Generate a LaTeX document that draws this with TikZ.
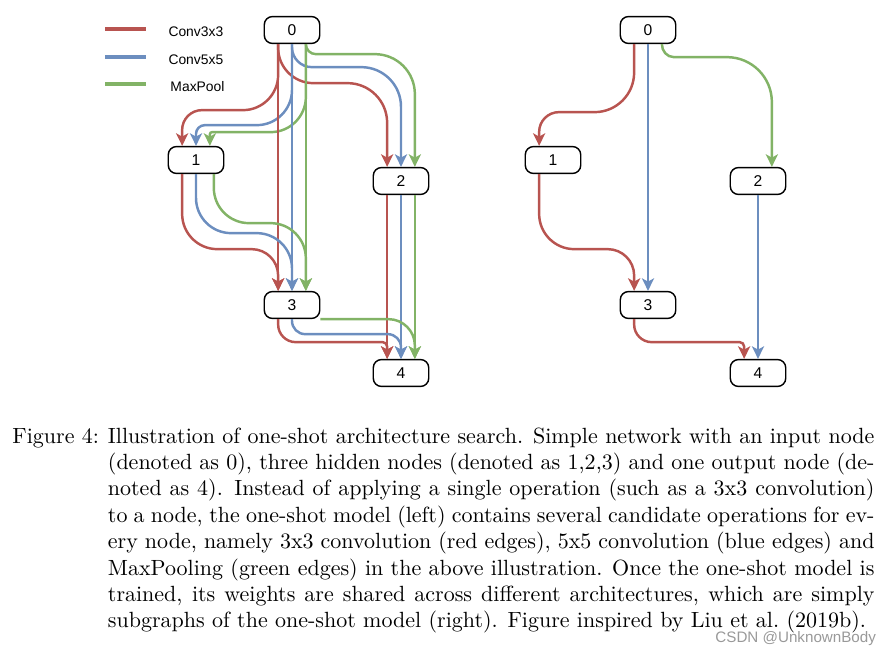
\documentclass[tikz,border=0pt]{standalone}
\usepackage{fontspec}
\usepackage{tikz}
\usetikzlibrary{arrows.meta, positioning}
\newfontfamily\drawiofont{Liberation Sans}
\definecolor{convred}{HTML}{B85450}
\definecolor{convblue}{HTML}{6C8EBF}
\definecolor{poolgreen}{HTML}{82B366}

\begin{document}
\begin{tikzpicture}[x=0.4545pt, y=-0.4545pt,
        cell/.style={rectangle, draw, rounded corners=3.7pt, minimum width=25.2pt, minimum height=12.2pt, inner sep=0pt, line width=0.65pt, font=\drawiofont\fontsize{7.1}{8}\selectfont},
        link/.style={line width=1.12pt, rounded corners=10pt, -{Stealth[length=5.7pt, width=5.5pt, inset=1.5pt]}},
        conv3/.style={link, draw=convred},
        conv5/.style={link, draw=convblue},
        pool/.style={link, draw=poolgreen},
        swatch/.style={rectangle, inner sep=0pt, minimum width=18.5pt, minimum height=2.25pt},
        keytext/.style={inner sep=0pt, font=\drawiofont\fontsize{6.3}{7}\selectfont}]
        \useasboundingbox (0,0) rectangle (896,657);

        \node[swatch, fill=convred] (KeyRed) at (125.5,29) {};
        \node[swatch, fill=convblue] (KeyBlue) at (125.5,57) {};
        \node[swatch, fill=poolgreen] (KeyGreen) at (125.5,84) {};
        \node[keytext, right=9.9pt of KeyRed, yshift=-1.3pt] (KeyRedText) {Conv3x3};
        \node[keytext, right=9.9pt of KeyBlue, yshift=-1.3pt] (KeyBlueText) {Conv5x5};
        \node[keytext, right=10.8pt of KeyGreen, yshift=-1.3pt] (KeyGreenText) {MaxPool};

        \node[cell] (Left0) at (292,30) {0};
        \node[cell] (Left1) at (196,160) {1};
        \node[cell] (Left2) at (401,181) {2};
        \node[cell] (Left3) at (292,305) {3};
        \node[cell] (Left4) at (401,373) {4};

        \draw[conv3] ([xshift=-6.3pt] Left0.south) [rounded corners=16pt] -- ++(0,66) [rounded corners=9pt] -- ++(-96,0) -- ([xshift=-6.3pt] Left1.north);
        \draw[conv5] (Left0.south) [rounded corners=16pt] -- ++(0,81) [rounded corners=4pt] -- ++(-96,0) -- (Left1.north);
        \draw[pool] ([xshift=6.3pt] Left0.south) [rounded corners=16pt] -- ++(0,88) [rounded corners=1pt] -- ++(-96,0) -- ([xshift=6.3pt] Left1.north);
        \draw[conv3] ([xshift=-6.3pt] Left0.south) [rounded corners=16pt] -- ++(0,39) [rounded corners=18pt] -- ++(109,0) -- ([xshift=-6.3pt] Left2.north);
        \draw[conv5] (Left0.south) [rounded corners=9pt] -- ++(0,23) [rounded corners=18pt] -- ++(109,0) -- (Left2.north);
        \draw[pool, sharp corners] ([xshift=6.3pt] Left0.south) to[out=-90, in=180] ++(10,10) -- ++(59,0) to[out=0, in=90] ++(40,40) -- ([xshift=6.3pt] Left2.north);
        \draw[conv3] ([xshift=-6.3pt] Left0.south) -- ([xshift=-6.3pt] Left3.north);
        \draw[conv5] (Left0.south) -- (Left3.north);
        \draw[pool] ([xshift=6.3pt] Left0.south) -- ([xshift=6.3pt] Left3.north);
        \draw[conv3] ([xshift=-6.3pt] Left1.south) [rounded corners=16pt] -- ++(0,75) [rounded corners=12pt] -- ++(96,0) -- ([xshift=-6.3pt] Left3.north);
        \draw[conv5, rounded corners=16pt] (Left1.south) -- ++(0,59) -- ++(96,0) -- (Left3.north);
        \draw[pool, rounded corners=16pt] ([xshift=8.1pt] Left1.south) -- ++(0,49) -- ++(92,0) -- ([xshift=6.3pt] Left3.north);
        \draw[conv3] ([xshift=-6.3pt] Left2.south) -- ([xshift=-6.3pt] Left4.north);
        \draw[conv5] (Left2.south) -- (Left4.north);
        \draw[pool] ([xshift=6.3pt] Left2.south) -- ([xshift=6.3pt] Left4.north);
        \draw[conv3] ([xshift=-6.3pt] Left3.south) [rounded corners=8pt] -- ++(0,23) [rounded corners=2pt] -- ++(109,0) -- ([xshift=-6.3pt] Left4.north);
        \draw[conv5, rounded corners=6pt] (Left3.south) -- ++(0,15) -| (Left4.north);
        \draw[pool, rounded corners=12pt] (Left3.south east) -| ([xshift=6.3pt] Left4.north);

        \node[cell] (Right0) at (648,30) {0};
        \node[cell] (Right1) at (553,160) {1};
        \node[cell] (Right2) at (758,181) {2};
        \node[cell] (Right3) at (648,305) {3};
        \node[cell] (Right4) at (758,373) {4};

        \draw[conv3] ([xshift=-6.3pt] Right0.south) [rounded corners=18pt] -- ++(0,68) [rounded corners=9pt] -- ++(-95,0) -- ([xshift=-6.3pt] Right1.north);
        \draw[conv5] (Right0.south) -- (Right3.north);
        \draw[pool, sharp corners] ([xshift=6.3pt] Right0.south) to[out=-90, in=180] ++(12,13) -- ++(53,0) to[out=0, in=90] ++(45,45) -- ([xshift=6.3pt] Right2.north);
        \draw[conv3] ([xshift=-6.3pt] Right1.south) [rounded corners=16pt] -- ++(0,75) [rounded corners=12pt] -- ++(95,0) -- ([xshift=-6.3pt] Right3.north);
        \draw[conv5] (Right2.south) -- (Right4.north);
        \draw[conv3] ([xshift=-6.3pt] Right3.south) [rounded corners=8pt] -- ++(0,23) [rounded corners=2pt] -- ++(110,0) -- ([xshift=-6.3pt] Right4.north);

        \node[anchor=base west, inner sep=0pt] (CaptionLabel) at (12,443) {Figure 4:};
        \node[anchor=base west, text width=348.4pt, align=justify, inner sep=0pt] (Caption) at (107.5,443) {\parfillskip=0pt plus 1fil
            Illustration of one-shot architecture search. Simple network with an input node\linebreak
            (denoted as 0), three hidden nodes (denoted as 1,2,3) and one output node (de-\linebreak
            noted as 4). Instead of applying a single operation (such as a 3x3 convolution)\linebreak
            to a node, the one-shot model (left) contains several candidate operations for ev-\linebreak
            ery node, namely 3x3 convolution (red edges), 5x5 convolution (blue edges) and\linebreak
            MaxPooling (green edges) in the above illustration. Once the one-shot model is\linebreak
            trained, its weights are shared across different architectures, which are simply\linebreak
            subgraphs of the one-shot model (right). Figure inspired by Liu et al.\ (2019b).};
        \node[anchor=west, inner sep=0pt, text=black!40, font=\drawiofont\fontsize{6.9}{8}\selectfont] (Mark) at (715,639) {CSDN @UnknownBody};
    \end{tikzpicture}
\end{document}
